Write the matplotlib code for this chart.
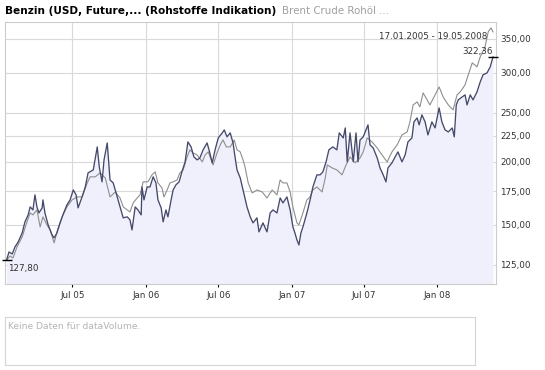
import numpy as np
import pandas as pd
import matplotlib
matplotlib.use("Agg")
import matplotlib.pyplot as plt
import matplotlib.dates as mdates
from matplotlib.ticker import FixedLocator, FuncFormatter, NullLocator

# --- data ---
start = pd.Timestamp("2005-01-17")
end = pd.Timestamp("2008-05-19")

# Benzin (USD, Future) - days since start / value
benzin_days = [0, 6, 14, 21, 29, 39, 46, 54, 59, 66, 71, 76, 81, 89, 91, 96, 104, 114, 119, 126,
               134, 141, 151, 159, 167, 174, 179, 189, 197, 204, 217, 227, 232, 239, 244, 252, 259, 267, 277, 284,
               292, 302, 309, 314, 322, 329, 337, 339, 344, 352, 359, 367, 374, 379, 387, 392, 399, 404, 412, 417,
               424, 432, 439, 447, 454, 462, 469, 477, 484, 492, 502, 507, 515, 522, 530, 540, 545, 552, 560, 567,
               572, 577, 585, 592, 602, 610, 617, 627, 632, 642, 652, 660, 667, 677, 685, 692, 702, 710, 717, 722,
               727, 732, 737, 742, 752, 760, 767, 777, 785, 792, 800, 807, 817, 827, 833, 843, 848, 853, 860, 868,
               875, 880, 885, 893, 905, 910, 918, 928, 935, 943, 950, 955, 965, 973, 980, 990, 998, 1005, 1015, 1020,
               1028, 1033, 1040, 1048, 1055, 1065, 1073, 1083, 1090, 1098, 1106, 1116, 1121, 1126, 1131, 1141, 1148, 1153, 1161, 1168,
               1178, 1186, 1193, 1203, 1211, 1218]
benzin = [127.8, 132.6, 131.4, 135.7, 138.8, 144.6, 152.1, 157.0, 162.8, 160.6, 172.0, 162.8, 158.4, 162.1, 168.1, 158.4, 150.0, 143.3, 141.4, 144.6,
          151.4, 157.0, 164.3, 168.1, 175.9, 172.0, 162.1, 170.4, 178.3, 190.1, 192.7, 214.0, 195.4, 182.5, 201.7, 217.9, 184.1, 181.6, 170.4, 162.8,
          154.9, 155.6, 153.5, 146.6, 162.8, 160.6, 157.0, 178.3, 168.1, 178.3, 178.3, 186.7, 181.6, 168.1, 162.1, 152.1, 160.6, 155.6, 168.1, 175.9,
          180.0, 182.5, 191.0, 199.9, 218.9, 214.0, 204.5, 201.7, 203.5, 211.1, 217.9, 211.1, 199.0, 211.1, 222.9, 228.1, 231.2, 224.0, 228.1, 217.9,
          204.5, 192.7, 185.8, 175.9, 162.8, 155.6, 151.4, 154.9, 145.3, 151.4, 145.3, 158.4, 160.6, 158.4, 169.6, 165.8, 170.4, 160.6, 148.6, 144.6,
          140.1, 136.9, 144.6, 148.6, 158.4, 168.1, 178.3, 188.4, 188.4, 191.0, 199.9, 211.1, 214.0, 211.1, 228.1, 222.9, 233.3, 199.9, 228.1, 199.9,
          228.1, 199.9, 220.9, 224.0, 236.6, 216.0, 213.0, 203.5, 194.5, 188.4, 182.5, 194.5, 199.0, 204.5, 209.2, 199.9, 206.3, 218.9, 222.9, 239.8,
          244.2, 236.6, 247.6, 239.8, 226.0, 239.8, 233.3, 255.6, 239.8, 231.2, 229.1, 233.3, 224.0, 259.1, 265.1, 268.8, 271.2, 259.1, 271.2, 265.1,
          275.0, 287.8, 297.1, 299.8, 308.1, 322.36]

# Brent Crude Rohoel (indexed to the same start)
brent_days = [0, 9, 16, 26, 39, 51, 59, 66, 76, 84, 91, 101, 109, 119, 129, 139, 151, 164, 177, 189,
              202, 209, 222, 234, 247, 259, 272, 284, 292, 302, 309, 317, 327, 334, 342, 354, 364, 372, 379, 389,
              394, 402, 409, 417, 427, 434, 442, 452, 459, 467, 477, 490, 497, 505, 517, 527, 535, 542, 550, 560,
              570, 577, 585, 592, 597, 605, 615, 627, 640, 652, 665, 677, 685, 692, 702, 710, 717, 727, 732, 742,
              752, 760, 767, 777, 790, 798, 803, 815, 827, 840, 850, 860, 873, 885, 893, 903, 915, 928, 940, 953,
              965, 978, 990, 1003, 1010, 1018, 1028, 1035, 1043, 1053, 1060, 1073, 1083, 1093, 1106, 1118, 1128, 1136, 1148, 1156,
              1166, 1178, 1186, 1198, 1206, 1213, 1218]
brent = [127.8, 130.2, 129.0, 135.7, 142.0, 152.1, 158.4, 157.0, 160.6, 148.6, 155.6, 150.0, 146.6, 138.2, 148.0, 155.6, 162.8, 168.1, 170.4, 170.4,
         181.6, 186.7, 186.7, 190.1, 185.8, 170.4, 174.3, 169.6, 162.8, 160.6, 159.1, 165.8, 169.6, 172.0, 182.5, 182.5, 188.4, 191.0, 181.6, 177.5,
         170.4, 175.9, 181.6, 182.5, 184.1, 190.1, 192.7, 204.5, 211.1, 208.2, 206.3, 199.9, 206.3, 209.2, 197.1, 208.2, 216.0, 220.9, 214.0, 214.0,
         220.9, 211.1, 209.2, 201.7, 195.4, 181.6, 173.5, 175.9, 174.3, 169.6, 175.9, 172.0, 184.1, 181.6, 181.6, 174.3, 162.8, 151.4, 150.0, 158.4,
         168.1, 170.4, 175.9, 178.3, 174.3, 185.8, 197.1, 194.5, 192.7, 188.4, 197.1, 204.5, 199.0, 203.5, 209.2, 222.9, 218.9, 213.0, 206.3, 199.9,
         209.2, 216.0, 226.0, 229.1, 239.8, 259.1, 262.7, 256.8, 273.7, 265.1, 259.1, 271.2, 281.3, 268.8, 259.1, 253.3, 271.2, 275.0, 283.9, 297.1,
         313.8, 308.1, 322.5, 337.5, 361.4, 368.1, 361.4]

y_ticks = [125, 150, 175, 200, 225, 250, 300, 350]

title_main = "Benzin (USD, Future,... (Rohstoffe Indikation)"
title_comp = "Brent Crude Rohöl ..."
range_text = "17.01.2005 - 19.05.2008"
no_volume = "Keine Daten für dataVolume."

benzin_dates = start + pd.to_timedelta(benzin_days, unit="D")
brent_dates = start + pd.to_timedelta(brent_days, unit="D")

plt.rcParams['font.family'] = ['DejaVu Sans']

W, H = 545, 370
fig = plt.figure(figsize=(W / 100, H / 100), dpi=100)

# main price panel
ax = fig.add_axes([5 / W, 1 - 284 / H, 491 / W, 262 / H])
ax.set_yscale("log")
ymin, ymax = 114.6, 378
ax.set_ylim(ymin, ymax)
ax.set_xlim(start - pd.Timedelta(days=4), end + pd.Timedelta(days=7.5))

ax.fill_between(benzin_dates, benzin, ymin, color="#f0f0fc", lw=0, zorder=1)
ax.plot(brent_dates, brent, color="#8e8e8e", lw=0.8, zorder=3)
ax.plot(benzin_dates, benzin, color="#454a6a", lw=0.95, zorder=4)

ax.yaxis.set_major_locator(FixedLocator(y_ticks))
ax.yaxis.set_minor_locator(NullLocator())
ax.yaxis.set_major_formatter(FuncFormatter(lambda v, p: f"{v:.2f}".replace(".", ",")))
ax.yaxis.tick_right()
ax.tick_params(axis="y", length=0, pad=3, labelsize=6.3, labelcolor="#333333")

ax.xaxis.set_major_locator(mdates.MonthLocator(bymonth=(1, 7)))
ax.xaxis.set_major_formatter(mdates.DateFormatter("%b %y"))
ax.tick_params(axis="x", direction="inout", length=4, width=0.8, color="black",
               pad=3, labelsize=6.3, labelcolor="#333333")

ax.grid(True, color="#d9d9d9", lw=0.8, zorder=0)
ax.set_axisbelow(True)
for s in ax.spines.values():
    s.set_color("#cccccc")
    s.set_linewidth(0.8)

# start / end markers and labels
fmt = lambda v: f"{v:.2f}".replace(".", ",")
ax.plot(benzin_dates[0], benzin[0], marker="_", ms=7, mew=1, color="black", clip_on=False, zorder=5)
ax.plot(benzin_dates[-1], benzin[-1], marker="_", ms=7, mew=1, color="black", clip_on=False, zorder=5)
ax.annotate(fmt(benzin[0]), (benzin_dates[0], benzin[0]), xytext=(1, -3), textcoords="offset points",
            ha="left", va="top", fontsize=6.3, color="#333333")
ax.annotate(fmt(benzin[-1]), (benzin_dates[-1], benzin[-1]), xytext=(0, 1), textcoords="offset points",
            ha="right", va="bottom", fontsize=6.3, color="#333333")
ax.text(0.982, 0.962, range_text, transform=ax.transAxes, ha="right", va="top",
        fontsize=6.3, color="#333333")

# title
t1 = fig.text(5 / W, 1 - 14 / H, title_main, fontsize=7.6, fontweight="bold", color="black",
              ha="left", va="baseline")
ax.annotate(title_comp, xy=(1, 0), xycoords=t1, xytext=(4, 0), textcoords="offset points",
            fontsize=7.4, color="#a0a0a0", ha="left", va="bottom")

# empty volume panel
ax2 = fig.add_axes([5 / W, 1 - 365 / H, 470 / W, 48 / H])
ax2.set_xticks([])
ax2.set_yticks([])
for s in ax2.spines.values():
    s.set_color("#d6d6d6")
    s.set_linewidth(0.8)
ax2.text(0.006, 0.8, no_volume, transform=ax2.transAxes, ha="left", va="center",
         fontsize=6.6, color="#b4b4b4")

fig.savefig("out.png", dpi=100)
